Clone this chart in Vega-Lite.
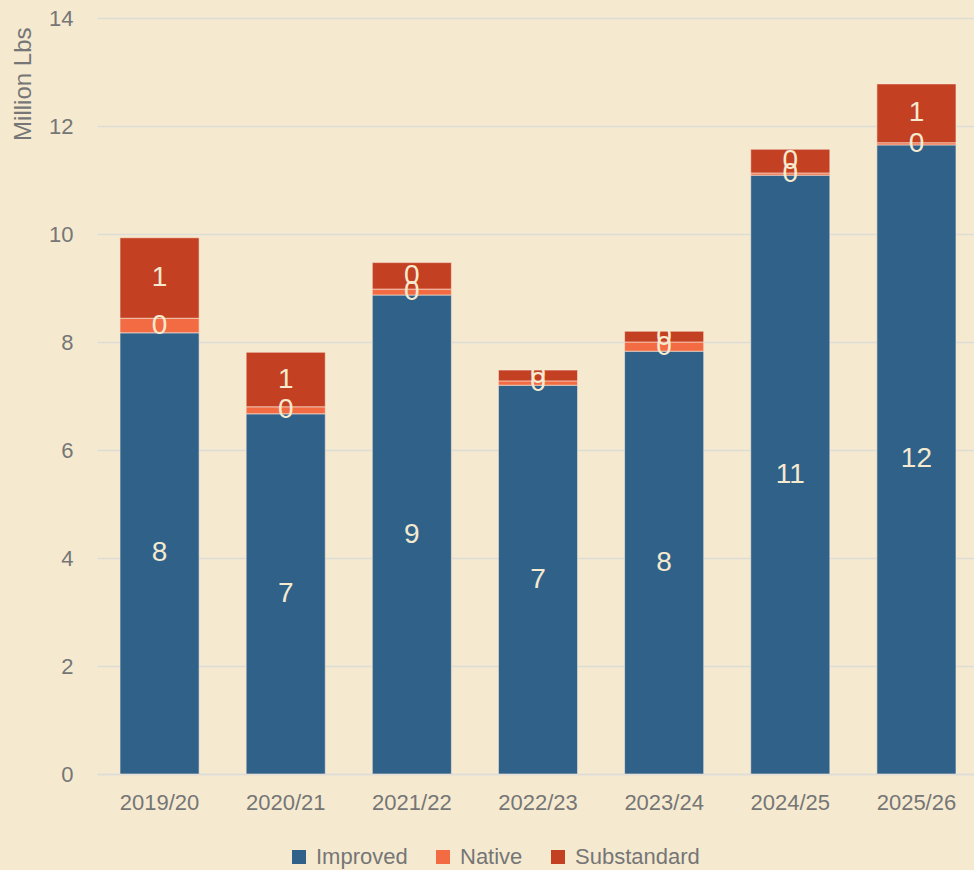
{
  "$schema": "https://vega.github.io/schema/vega-lite/v6.json",
  "width": 882,
  "height": 756,
  "autosize": {"type": "none"},
  "padding": {"left": 97, "top": 18, "right": 0, "bottom": 96},
  "background": "#F5EAD0",
  "config": {
    "view": {"stroke": null},
    "font": "Liberation Sans",
    "axis": {"labelFont": "Liberation Sans", "titleFont": "Liberation Sans", "labelColor": "#767676", "titleColor": "#767676"}
  },
  "data": {
    "values": [
      {"year": "2019/20", "type": "Improved", "value": 8.17},
      {"year": "2019/20", "type": "Native", "value": 0.27},
      {"year": "2019/20", "type": "Substandard", "value": 1.49},
      {"year": "2020/21", "type": "Improved", "value": 6.67},
      {"year": "2020/21", "type": "Native", "value": 0.13},
      {"year": "2020/21", "type": "Substandard", "value": 1.01},
      {"year": "2021/22", "type": "Improved", "value": 8.87},
      {"year": "2021/22", "type": "Native", "value": 0.11},
      {"year": "2021/22", "type": "Substandard", "value": 0.49},
      {"year": "2022/23", "type": "Improved", "value": 7.2},
      {"year": "2022/23", "type": "Native", "value": 0.08},
      {"year": "2022/23", "type": "Substandard", "value": 0.2},
      {"year": "2023/24", "type": "Improved", "value": 7.83},
      {"year": "2023/24", "type": "Native", "value": 0.17},
      {"year": "2023/24", "type": "Substandard", "value": 0.2},
      {"year": "2024/25", "type": "Improved", "value": 11.09},
      {"year": "2024/25", "type": "Native", "value": 0.04},
      {"year": "2024/25", "type": "Substandard", "value": 0.44},
      {"year": "2025/26", "type": "Improved", "value": 11.65},
      {"year": "2025/26", "type": "Native", "value": 0.04},
      {"year": "2025/26", "type": "Substandard", "value": 1.09}
    ]
  },
  "transform": [
    {"stack": "value", "groupby": ["year"], "sort": [{"field": "type", "order": "ascending"}], "as": ["v0", "v1"]},
    {"calculate": "(datum.v0 + datum.v1) / 2", "as": "mid"}
  ],
  "encoding": {
    "x": {
      "field": "year", "type": "nominal", "title": null,
      "scale": {"paddingInner": 0.373, "paddingOuter": 0.1824},
      "axis": {"labelAngle": 0, "labelFontSize": 22, "labelPadding": 18, "ticks": false, "domainColor": "#DEDCD6", "domainWidth": 1.5}
    }
  },
  "layer": [
    {
      "mark": {"type": "bar", "stroke": "#F8E8DA", "strokeWidth": 1, "strokeOpacity": 0.6},
      "encoding": {
        "y": {
          "field": "v0", "type": "quantitative", "title": "Million Lbs",
          "scale": {"domain": [0, 14]},
          "axis": {"values": [0, 2, 4, 6, 8, 10, 12, 14], "labelFontSize": 22, "labelPadding": 24, "ticks": false, "domain": false, "gridColor": "#DEDCD6", "gridWidth": 1.5, "titleFontSize": 24, "titleFontWeight": "normal", "titleAnchor": "end", "titleY": 9, "titlePadding": 13}
        },
        "y2": {"field": "v1"},
        "color": {
          "field": "type", "type": "nominal",
          "scale": {"domain": ["Improved", "Native", "Substandard"], "range": ["#2F6189", "#F26B43", "#C44022"]},
          "legend": {"title": null, "orient": "none", "direction": "horizontal", "legendX": 191, "legendY": 828, "symbolType": "square", "symbolSize": 196, "symbolStrokeWidth": 0, "labelFontSize": 22, "labelColor": "#767676", "labelFont": "Liberation Sans", "labelOffset": 6, "columnPadding": 24}
        }
      }
    },
    {
      "mark": {"type": "text", "color": "#F5EAD0", "fontSize": 28, "baseline": "middle", "font": "Liberation Sans"},
      "encoding": {
        "y": {"field": "mid", "type": "quantitative"},
        "text": {"field": "value", "type": "quantitative", "format": ".0f"}
      }
    }
  ]
}
